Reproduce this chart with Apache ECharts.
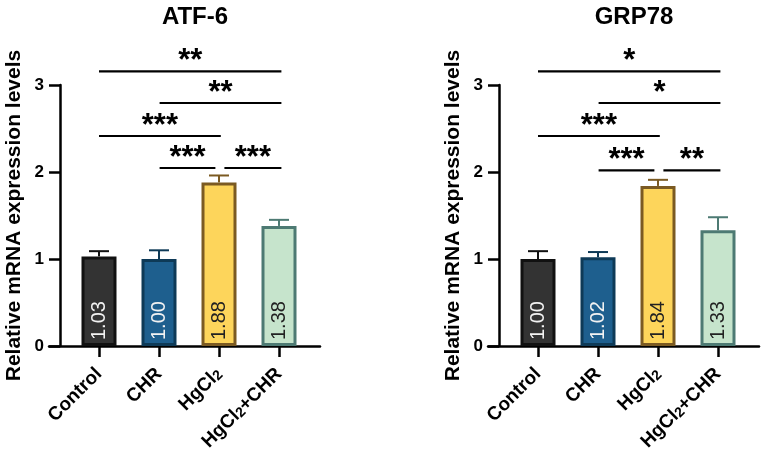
<!DOCTYPE html>
<html>
<head>
<meta charset="utf-8">
<script src="https://cdn.jsdelivr.net/npm/echarts@6/dist/echarts.min.js"></script>
<style>
  html, body { margin: 0; padding: 0; background: #fff; }
  #chart { width: 762px; height: 458px; }
</style>
</head>
<body>
<div id="chart"></div>
<script>
// groups on the x axis
const categories = ['Control', 'CHR', 'HgCl2', 'HgCl2+CHR'];
const categoryPos = [0, 1, 2, 3];
const yTicks = [0, 1, 2, 3];

// ATF-6 panel
const atfValues = [1.03, 1.00, 1.88, 1.38];
const atfErrors = [0.06, 0.10, 0.08, 0.07];
const atfSigStart = [0, 1.01, 0, 1.01, 2.09];
const atfSigEnd = [3.04, 3.04, 2.03, 1.94, 3.04];
const atfSigY = [3.156, 2.793, 2.414, 2.046, 2.046];
const atfSigText = ['**', '**', '***', '***', '***'];

// GRP78 panel
const grpValues = [1.00, 1.02, 1.84, 1.33];
const grpErrors = [0.09, 0.06, 0.07, 0.15];
const grpSigStart = [0, 1.01, 0, 1.01, 2.09];
const grpSigEnd = [3.04, 3.04, 2.03, 1.94, 3.04];
const grpSigY = [3.156, 2.793, 2.414, 2.018, 2.018];
const grpSigText = ['*', '*', '***', '***', '**'];

const FONT = 'Liberation Sans';
const fills = ['#333333', '#1e5f8e', '#fdd55b', '#c6e4cc'];
const borders = ['#111111', '#0e3a57', '#7b5a22', '#4d7a73'];
const labelColors = ['#f2f2f2', '#f2f2f2', '#222222', '#222222'];

const richLabels = [
  '{b|Control}',
  '{b|CHR}',
  '{b|HgCl}{s|2}',
  '{b|HgCl}{s|2}{b|+CHR}'
];

const chart = echarts.init(document.getElementById('chart'));

function axesFor(gi) {
  const x = {
    gridIndex: gi,
    type: 'value',
    min: -0.8333,
    max: 3.6833,
    splitLine: { show: false },
    axisLine: { show: true, lineStyle: { color: '#000', width: 2.5 } },
    axisTick: { show: true, customValues: categoryPos, length: 11, lineStyle: { color: '#000', width: 2.5 } },
    axisLabel: {
      customValues: categoryPos,
      rotate: 45,
      margin: 25,
      formatter: v => richLabels[Math.round(v)],
      rich: {
        b: { fontFamily: FONT, fontWeight: 'bold', fontSize: 19, color: '#000', lineHeight: 19, verticalAlign: 'top' },
        s: { fontFamily: FONT, fontWeight: 'bold', fontSize: 14, color: '#000', lineHeight: 14, verticalAlign: 'bottom', padding: [8, 0, 0, 0] }
      }
    }
  };
  const y = {
    gridIndex: gi,
    type: 'value',
    min: 0,
    max: 3,
    interval: 1,
    offset: -11,
    splitLine: { show: false },
    axisLine: { show: true, onZero: false, lineStyle: { color: '#000', width: 2.5 } },
    axisTick: { show: true, length: 11, lineStyle: { color: '#000', width: 2.5 } },
    axisLabel: { margin: 16, fontFamily: FONT, fontWeight: 'bold', fontSize: 17, color: '#000' },
    name: 'Relative mRNA expression levels',
    nameLocation: 'middle',
    nameGap: 35,
    nameTextStyle: { fontFamily: FONT, fontWeight: 'bold', fontSize: 21, color: '#000' }
  };
  return [x, y];
}

function seriesFor(gi, values, errors, sStart, sEnd, sY, sText) {
  const bars = {
    type: 'bar',
    xAxisIndex: gi,
    yAxisIndex: gi,
    barWidth: 35,
    data: values.map((v, i) => ({
      value: [categoryPos[i], v],
      itemStyle: { color: fills[i], borderColor: borders[i], borderWidth: 3 },
      label: { color: labelColors[i] }
    })),
    label: {
      show: true,
      position: 'insideBottom',
      rotate: 90,
      align: 'left',
      verticalAlign: 'middle',
      distance: 6,
      fontFamily: FONT,
      fontSize: 20,
      formatter: p => p.value[1].toFixed(2)
    },
    z: 3
  };
  const errs = {
    type: 'custom',
    xAxisIndex: gi,
    yAxisIndex: gi,
    data: values.map((v, i) => [categoryPos[i], v, errors[i]]),
    renderItem: (params, api) => {
      const i = params.dataIndex;
      const x = api.value(0), v = api.value(1), e = api.value(2);
      const base = api.coord([x, v]);
      const top = api.coord([x, v + e]);
      const st = { stroke: borders[i], lineWidth: 2 };
      return {
        type: 'group',
        children: [
          { type: 'line', shape: { x1: base[0], y1: base[1], x2: top[0], y2: top[1] }, style: st },
          { type: 'line', shape: { x1: top[0] - 10, y1: top[1], x2: top[0] + 10, y2: top[1] }, style: st }
        ]
      };
    },
    z: 2
  };
  const sig = {
    type: 'custom',
    xAxisIndex: gi,
    yAxisIndex: gi,
    clip: false,
    data: sY.map((y, i) => [sStart[i], sEnd[i], y]),
    renderItem: (params, api) => {
      const i = params.dataIndex;
      const a = api.coord([api.value(0), api.value(2)]);
      const b = api.coord([api.value(1), api.value(2)]);
      return {
        type: 'group',
        children: [
          { type: 'line', shape: { x1: a[0], y1: a[1], x2: b[0], y2: b[1] }, style: { stroke: '#000', lineWidth: 2.2 } },
          {
            type: 'text',
            style: {
              text: sText[i],
              x: (a[0] + b[0]) / 2,
              y: a[1] - 10,
              align: 'center',
              verticalAlign: 'middle',
              fill: '#000',
              font: 'bold 31px "' + FONT + '"'
            }
          }
        ]
      };
    },
    z: 4
  };
  return [bars, errs, sig];
}

const a0 = axesFor(0), a1 = axesFor(1);

chart.setOption({
  animation: false,
  backgroundColor: '#fff',
  title: [
    { text: 'ATF-6', left: 190, top: 0, textAlign: 'center', textStyle: { fontFamily: FONT, fontWeight: 'bold', fontSize: 24, color: '#000' } },
    { text: 'GRP78', left: 629, top: 0, textAlign: 'center', textStyle: { fontFamily: FONT, fontWeight: 'bold', fontSize: 24, color: '#000' } }
  ],
  grid: [
    { left: 49, top: 85, width: 271, height: 261 },
    { left: 488, top: 85, width: 271, height: 261 }
  ],
  xAxis: [a0[0], a1[0]],
  yAxis: [a0[1], a1[1]],
  series: [
    ...seriesFor(0, atfValues, atfErrors, atfSigStart, atfSigEnd, atfSigY, atfSigText),
    ...seriesFor(1, grpValues, grpErrors, grpSigStart, grpSigEnd, grpSigY, grpSigText)
  ]
});
</script>
</body>
</html>
